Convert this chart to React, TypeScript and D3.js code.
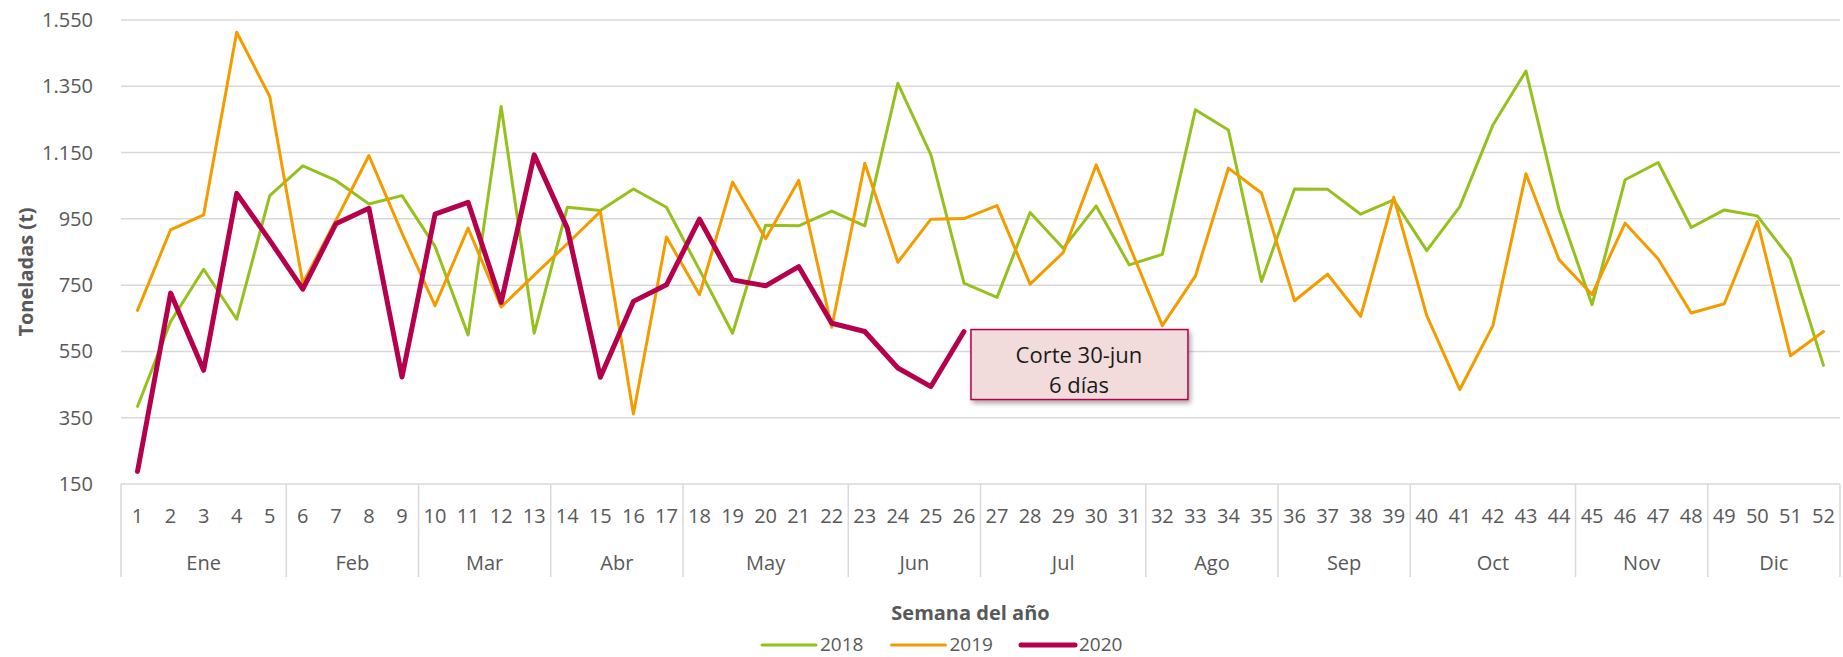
import React, { useEffect, useRef } from "react";
import * as d3 from "d3";

// weekly tonnage
const weeks = d3.range(1, 53);
const months = ["Ene", "Feb", "Mar", "Abr", "May", "Jun", "Jul", "Ago", "Sep", "Oct", "Nov", "Dic"];
const weeksPerMonth = [5, 4, 4, 4, 5, 4, 5, 4, 4, 5, 4, 4];
const yTicks = [150, 350, 550, 750, 950, 1150, 1350, 1550];

const t2018 = [384, 640, 798, 647, 1020, 1110, 1066, 995, 1020, 867, 600, 1289, 605, 985, 975, 1040, 985, 796, 605, 931, 929, 973, 929, 1359, 1143, 756, 713, 969, 861, 989, 811, 843, 1279, 1218, 761, 1040, 1039, 964, 1007, 854, 987, 1233, 1396, 979, 691, 1068, 1120, 924, 977, 959, 829, 508];
const t2019 = [674, 917, 962, 1513, 1319, 756, 945, 1141, 907, 688, 922, 684, 780, 875, 972, 361, 895, 721, 1061, 890, 1066, 623, 1118, 819, 949, 951, 990, 753, 848, 1113, 870, 628, 777, 1103, 1028, 703, 783, 656, 1015, 658, 435, 628, 1086, 827, 722, 937, 829, 666, 694, 942, 537, 610];
const t2020 = [188, 726, 493, 1027, 885, 738, 935, 982, 473, 964, 1000, 698, 1143, 922, 472, 701, 751, 949, 766, 748, 806, 635, 610, 500, 444, 610];

const series = [
  { name: "2018", values: t2018, color: "#96c01e", width: 3 },
  { name: "2019", values: t2019, color: "#f39c00", width: 3 },
  { name: "2020", values: t2020, color: "#b5004b", width: 5 },
];

const W = 1843;
const H = 657;
const FONT = "'Open Sans', 'Noto Sans', sans-serif";
const GREY = "#595959";

export default function App() {
  const svgRef = useRef<SVGSVGElement>(null);

  useEffect(() => {
    const svg = d3.select(svgRef.current);
    svg.selectAll("*").remove();

    const left = 121, right = 1840, top = 20, bottom = 484;
    const x = d3.scaleBand<number>().domain(weeks).range([left, right]).padding(0);
    const bw = x.bandwidth();
    const xc = (w: number) => (x(w) as number) + bw / 2;
    const y = d3.scaleLinear().domain([150, 1550]).range([bottom, top]);
    const fmt = d3.formatLocale({ decimal: ",", thousands: ".", grouping: [3], currency: ["", ""] }).format(",");

    const defs = svg.append("defs");
    const f = defs.append("filter").attr("id", "shadow").attr("x", "-10%").attr("y", "-20%").attr("width", "130%").attr("height", "150%");
    f.append("feDropShadow").attr("dx", 2).attr("dy", 3).attr("stdDeviation", 2.5).attr("flood-color", "#000").attr("flood-opacity", 0.35);

    // gridlines
    svg.append("g")
      .selectAll("line")
      .data(yTicks)
      .join("line")
      .attr("x1", left).attr("x2", right)
      .attr("y1", (d) => y(d)).attr("y2", (d) => y(d))
      .attr("stroke", "#d9d9d9").attr("stroke-width", 1.5);

    svg.append("g")
      .selectAll("text")
      .data(yTicks)
      .join("text")
      .attr("x", 93).attr("y", (d) => y(d) + 7)
      .attr("text-anchor", "end")
      .attr("font-family", FONT).attr("font-size", 20).attr("fill", GREY)
      .text((d) => fmt(d));

    svg.append("text")
      .attr("transform", `translate(33,${(top + bottom) / 2 + 20}) rotate(-90)`)
      .attr("text-anchor", "middle")
      .attr("font-family", FONT).attr("font-size", 20).attr("font-weight", "bold").attr("fill", GREY)
      .text("Toneladas (t)");

    // category axis: weeks and month groups
    const catBottom = 577;
    const bounds = [0, ...d3.cumsum(weeksPerMonth)];
    const ax = svg.append("g");
    ax.selectAll("line.m")
      .data(bounds)
      .join("line")
      .attr("x1", (d) => left + d * bw).attr("x2", (d) => left + d * bw)
      .attr("y1", bottom).attr("y2", catBottom)
      .attr("stroke", "#d9d9d9").attr("stroke-width", 1.5);
    ax.selectAll("text.w")
      .data(weeks)
      .join("text")
      .attr("x", (d) => xc(d)).attr("y", 523)
      .attr("text-anchor", "middle")
      .attr("font-family", FONT).attr("font-size", 20).attr("fill", GREY)
      .text((d) => d);
    svg.append("g").selectAll("text")
      .data(months)
      .join("text")
      .attr("x", (d, i) => left + ((bounds[i] + bounds[i + 1]) / 2) * bw).attr("y", 570)
      .attr("text-anchor", "middle")
      .attr("font-family", FONT).attr("font-size", 20).attr("fill", GREY)
      .text((d) => d);

    svg.append("text")
      .attr("x", (left + right) / 2 - 10).attr("y", 620)
      .attr("text-anchor", "middle")
      .attr("font-family", FONT).attr("font-size", 20).attr("font-weight", "bold").attr("fill", GREY)
      .text("Semana del año");

    // lines
    const line = d3.line<number>().x((d, i) => xc(weeks[i])).y((d) => y(d));
    svg.append("g")
      .selectAll("path")
      .data(series)
      .join("path")
      .attr("d", (s) => line(s.values))
      .attr("fill", "none")
      .attr("stroke", (s) => s.color)
      .attr("stroke-width", (s) => s.width)
      .attr("stroke-linejoin", "round")
      .attr("stroke-linecap", "round");

    // cut-off note next to the last 2020 point
    const lastW = t2020.length;
    const bx = xc(lastW) + 7;
    const by = y(t2020[lastW - 1]) - 2;
    const note = svg.append("g");
    note.append("rect")
      .attr("x", bx).attr("y", by).attr("width", 217).attr("height", 70)
      .attr("fill", "#f2dcdb").attr("stroke", "#b5004b").attr("stroke-width", 1.5)
      .attr("filter", "url(#shadow)");
    note.append("text")
      .attr("x", bx + 108).attr("y", by + 33)
      .attr("text-anchor", "middle")
      .attr("font-family", FONT).attr("font-size", 22).attr("fill", "#1a1a1a")
      .text("Corte 30-jun");
    note.append("text")
      .attr("x", bx + 108).attr("y", by + 63)
      .attr("text-anchor", "middle")
      .attr("font-family", FONT).attr("font-size", 22).attr("fill", "#1a1a1a")
      .text("6 días");

    // legend
    const lg = svg.append("g").selectAll("g")
      .data(series)
      .join("g")
      .attr("transform", (d, i) => `translate(${762 + i * 129.5},645)`);
    lg.append("line")
      .attr("x1", 0).attr("x2", 54).attr("y1", 0).attr("y2", 0)
      .attr("stroke", (d) => d.color).attr("stroke-width", (d) => d.width)
      .attr("stroke-linecap", "round");
    lg.append("text")
      .attr("x", 58).attr("y", 6)
      .attr("font-family", FONT).attr("font-size", 19).attr("fill", GREY)
      .text((d) => d.name);
  }, []);

  return (
    <div style={{ position: "absolute", left: 0, top: 0, background: "#fff" }}>
      <svg ref={svgRef} width={W} height={H} style={{ display: "block" }} />
    </div>
  );
}
